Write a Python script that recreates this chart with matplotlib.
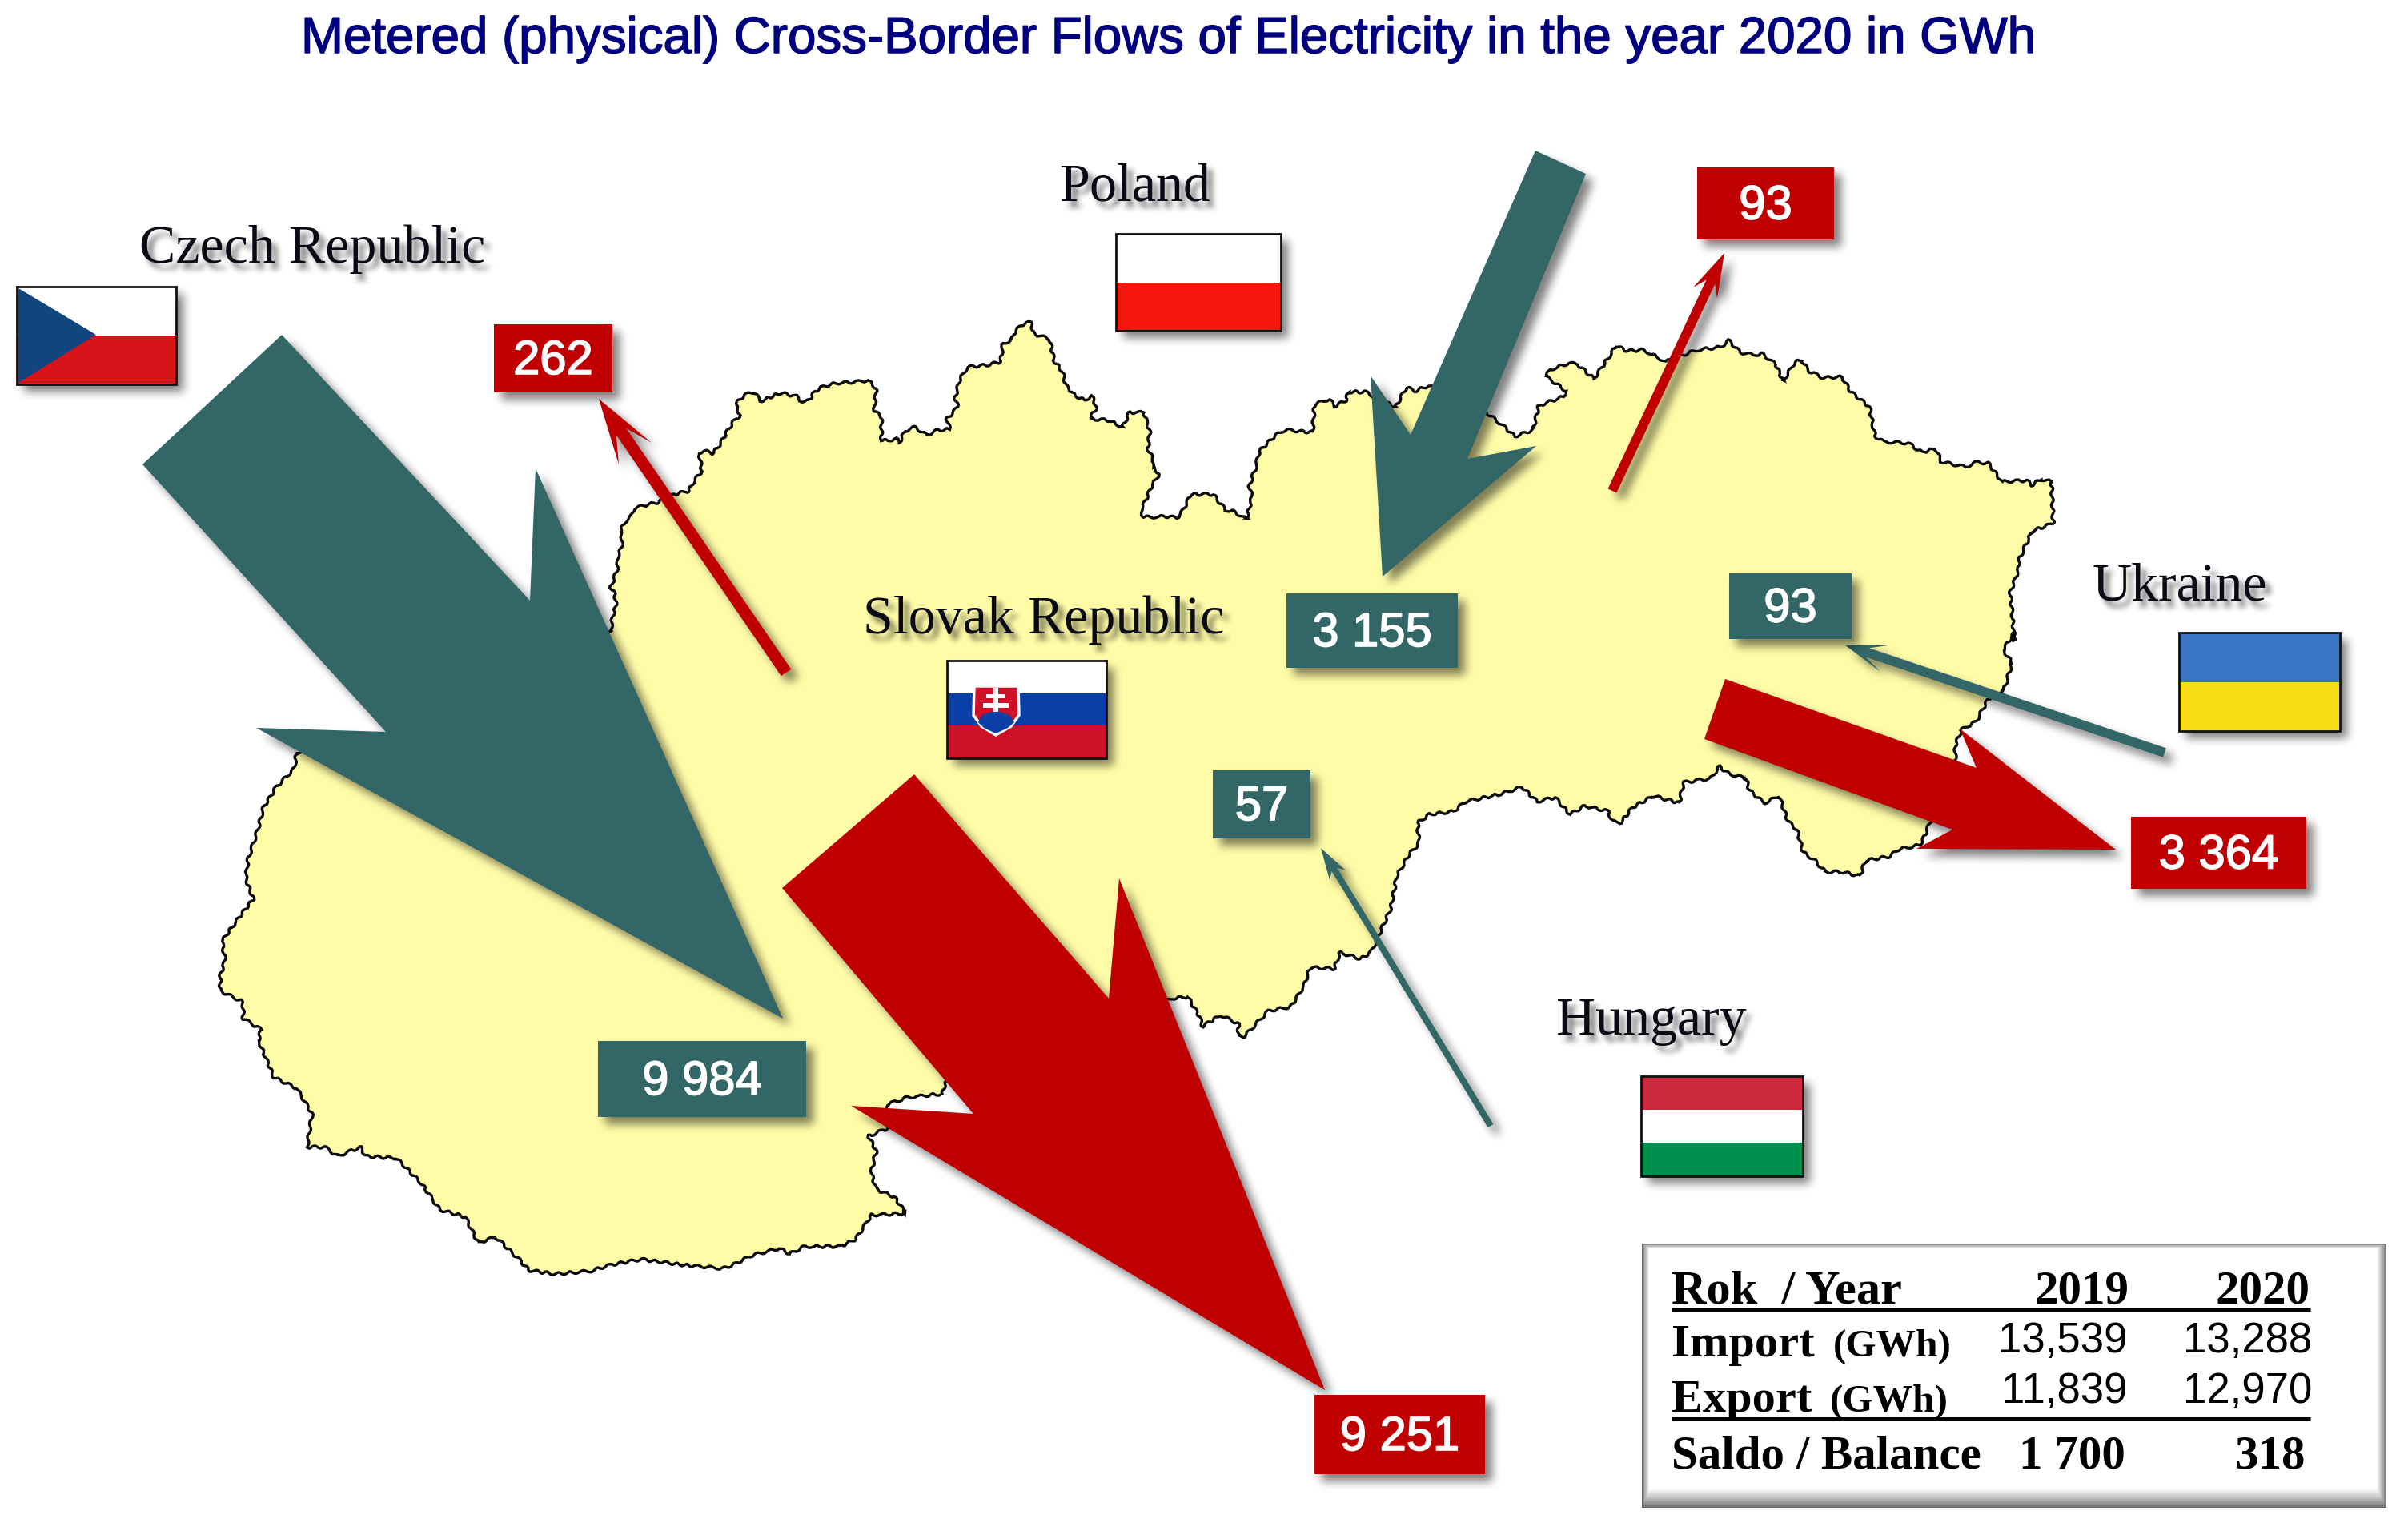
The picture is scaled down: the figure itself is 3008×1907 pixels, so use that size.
import numpy as np
import matplotlib
matplotlib.use("Agg")
import matplotlib.pyplot as plt
from matplotlib.patches import Polygon, Rectangle
import matplotlib.patheffects as pe

TITLE = "Metered (physical) Cross-Border Flows of Electricity in the year 2020 in GWh"
COUNTRIES = ["Czech Republic", "Poland", "Slovak Republic", "Ukraine", "Hungary"]
IMPORT_LABELS = ["9 984", "3 155", "93", "57"]
EXPORT_LABELS = ["262", "93", "3 364", "9 251"]
YEARS = ["2019", "2020"]
IMPORT_TOTAL = ["13,539", "13,288"]
EXPORT_TOTAL = ["11,839", "12,970"]
BALANCE = ["1 700", "318"]

TEAL = "#336666"
RED = "#C00000"
YELLOW = "#FFFCA8"
NAVY = "#00007F"
W, H = 3008, 1907

# border, piece by piece
edge_a = [(45,1220),(50,1170),(58,1130),(55,1085),(45,1060),(55,1020),(62,985),(62,945),(72,910),(72,870),(68,850),(80,815),(95,795),(102,765),(125,755),(160,742),(200,712),(235,700),(250,660),(268,625),(262,560),(270,547),(295,558),(310,530),(325,490),(345,440),(362,415),(350,375),(372,340),(395,328),(412,362),(440,345),(462,332),(500,345),(508,362),(530,362),(545,325),(565,308),(600,295),(650,290),(675,285),(695,315),(690,400),(708,420),(708,512),(745,505),(752,518),(765,475),(790,460),(818,490),(845,472),(875,468),(868,430),(895,385),(888,350),(900,280),(918,235),(965,228),(1000,215),(1005,150),(1028,130),(1035,100),(1060,68),(1075,70),(1080,110),(1120,130),(1130,210),(1150,250),(1160,305),(1180,340),(1205,360),(1222,342),(1235,385),(1218,428),(1265,435),(1298,460),(1315,405),(1350,405),(1365,480),(1360,540),(1375,590),(1372,610),(1388,635),(1370,680),(1350,750),(1342,775),(1350,798),(1405,795),(1432,800),(1445,775),(1465,712),(1520,712),(1550,770)]
edge_b = [(0,715),(25,745),(35,660),(30,620),(42,550),(48,490),(78,430),(95,410),(145,420),(148,315),(175,295),(185,322),(205,300),(210,268),(240,268),(250,280),(295,325),(315,250),(330,265),(355,245),(460,345),(490,395),(512,435),(545,410),(555,320),(600,285),(605,265),(568,210),(575,185),(610,160),(625,165),(655,218),(670,175),(695,95),(715,115),(745,110),(785,155),(815,130),(845,110),(885,100),(900,75),(920,120),(945,130),(960,125),(985,165),(998,228),(1020,155),(1032,150),(1045,190),(1070,215),(1105,212),(1120,265),(1155,325),(1165,435),(1180,455),(1225,460),(1250,495),(1275,480),(1285,530),(1330,550),(1345,532),(1370,535),(1395,605),(1440,600),(1450,618),(1465,595),(1485,605),(1488,760),(1450,790),(1425,900),(1425,935),(1410,1020),(1418,1200)]
edge_c = [(1430,25),(1410,90),(1425,135),(1412,230),(1385,265),(1365,345),(1340,375),(1330,430),(1330,490),(1275,770),(1270,785),(1235,800),(1220,825),(1180,840),(1170,895),(1140,880),(1112,880),(1095,840),(1075,810),(1065,730),(1050,700),(1035,610),(1010,635),(985,590),(980,548),(950,530),(935,505),(920,548),(875,562),(868,635),(825,610),(790,650),(770,705),(755,700),(750,665),(710,645),(685,675),(660,615),(630,630),(605,578),(565,605),(510,630),(490,665),(450,675),(430,705),(432,780),(415,820),(395,895),(385,1010),(365,1105),(352,1165),(335,1190),(300,1168),(290,1225),(250,1220),(240,1285),(218,1360),(180,1375),(140,1465),(130,1465),(130,1420),(100,1390),(70,1430),(65,1395),(45,1325),(20,1330)]
edge_d = [(1475,985),(1470,1015),(1400,1025),(1360,1045),(1360,1110),(1325,1130),(1340,1170),(1330,1230),(1340,1275),(1375,1295),(1398,1340),(1330,1345),(1300,1410),(1270,1430),(1200,1430),(1170,1450),(1150,1435),(1095,1455),(1060,1480),(1040,1490),(960,1480),(880,1465),(820,1480),(780,1497),(710,1505),(660,1495),(640,1465),(595,1405),(560,1420),(535,1350),(485,1330),(450,1260),(400,1190),(340,1185),(330,1160),(285,1185),(260,1160),(225,1160),(235,1070),(205,1000),(160,970),(130,870),(135,840),(100,810),(100,765),(55,735),(55,695),(65,650),(58,600),(100,520),(120,485),(105,430),(110,375),(130,290),(140,235),(165,180),(200,130),(205,85)]
edge_hidden = [(560, 950)]  # runs underneath the Czech arrow


def place(pts, x0, y0, sx, sy):
    return [(x0 + x / sx, y0 + y / sy) for x, y in pts]


outline = (place(edge_a, 740, 380, 1.96, 3) + place(edge_b, 1540, 400, 1.452, 3)
           + place(edge_c, 1450, 780, 1.34, 2.85) + place(edge_d, 240, 900, 1.568, 2.178) + edge_hidden)

big_teal_cz = [(352,418),(662,750),(669,585),(978,1272),(320,909),(482,914),(178,580)]
big_red_hu = [(1142,967),(1385,1247),(1398,1097),(1655,1736),(1063,1381),(1216,1391),(977,1109)]
big_teal_pl = [(1918,188),(1981,217),(1833,573),(1919,557),(1727,720),(1712,469),(1762,543)]
big_red_ua = [(2155,848),(2469,959),(2448,910),(2643,1061),(2394,1060),(2439,1036),(2129,923)]


def box_blur(a, r, axis):
    a = np.moveaxis(a, axis, 0)
    c = np.cumsum(np.pad(a, ((r + 1, r), (0, 0))), axis=0)
    out = (c[2 * r + 1:] - c[:-(2 * r + 1)]) / (2 * r + 1)
    return np.moveaxis(out, 0, axis)


class Shadow:
    def __init__(self, dx=9, dy=9, r=5, alpha=0.5):
        self.dx, self.dy, self.r, self.alpha = dx, dy, r, alpha

    def __call__(self, im, dpi):
        pad = 3 * self.r + max(self.dx, self.dy) + 2
        a = np.pad(im[:, :, 3], pad)
        for _ in range(3):
            a = box_blur(a, self.r, 0)
            a = box_blur(a, self.r, 1)
        a = np.roll(np.roll(a, self.dy, axis=0), self.dx, axis=1)
        out = np.zeros(a.shape + (4,))
        out[:, :, 3] = np.clip(a * self.alpha, 0, 1)
        return out, -pad, -pad


fig = plt.figure(figsize=(W / 100, H / 100), dpi=100)
ax = fig.add_axes([0, 0, 1, 1])
ax.set_xlim(0, W)
ax.set_ylim(H, 0)
ax.axis("off")
z = [10]


def shape(pts, color, shadow=True, lw=0, ec=None):
    z[0] += 2
    if shadow:
        s = Polygon(pts, closed=True, fc="k", ec="none", zorder=z[0] - 1)
        s.set_agg_filter(Shadow())
        ax.add_patch(s)
    ax.add_patch(Polygon(pts, closed=True, fc=color, ec=ec or "none", lw=lw, zorder=z[0]))


def thin_arrow(tail, tip, barb1, barb2, notch, w, color):
    t, n = np.array(tail, float), np.array(notch, float)
    d = (n - t) / np.hypot(*(n - t))
    p = np.array([-d[1], d[0]]) * w / 2
    b1, b2 = np.array(barb1, float), np.array(barb2, float)
    if np.dot(b1 - n, p) < 0:
        b1, b2 = b2, b1
    shape([t + p, n + p, b1, tip, b2, n - p, t - p], color)


def rect(x0, y0, x1, y1):
    return [(x0, y0), (x1, y0), (x1, y1), (x0, y1)]


def flag(x0, y0, x1, y1, stripes):
    shape(rect(x0, y0, x1, y1), "k", lw=0)
    z[0] += 1
    n = sum(f for f, _ in stripes)
    y = y0
    for f, c in stripes:
        yy = y + (y1 - y0) * f / n
        ax.add_patch(Rectangle((x0, y), x1 - x0, yy - y, fc=c, ec="none", zorder=z[0]))
        y = yy
    ax.add_patch(Rectangle((x0, y0), x1 - x0, y1 - y0, fc="none", ec="#111111", lw=2.0, zorder=z[0] + 1))
    z[0] += 2


def label(x0, y0, x1, y1, txt, color):
    shape(rect(x0, y0, x1, y1), color)
    ax.text((x0 + x1) / 2, (y0 + y1) / 2 + 4, txt, color="white", ha="center", va="center",
            fontsize=43, family="Liberation Sans", zorder=z[0] + 1,
            path_effects=[pe.withStroke(linewidth=1.2, foreground="white")])


def country(x, y, txt):
    z[0] += 2
    kw = dict(ha="left", va="baseline", fontsize=49, family="Liberation Serif")
    s = ax.text(x, y, txt, color="k", zorder=z[0] - 1, **kw)
    s.set_agg_filter(Shadow(dx=7, dy=8, r=3, alpha=0.55))
    ax.text(x, y, txt, color="#0a0a14", zorder=z[0], **kw)


# title
ax.text(376, 66, TITLE, color=NAVY, fontsize=45.8, family="Liberation Sans", ha="left", va="baseline",
        zorder=5, path_effects=[pe.withStroke(linewidth=1.1, foreground=NAVY)])

# map
border = Polygon(outline, closed=True, fc=YELLOW, ec="#0a0a0a", lw=2.4, zorder=2, joinstyle="miter")
border.set_sketch_params(1.6, 16, 2)
ax.add_patch(border)

# thin arrows and big arrows
thin_arrow((2704, 940), (2304, 805), (2359, 806), (2349, 839), (2333, 815), 12, TEAL)
thin_arrow((1862, 1406), (1650, 1059), (1681, 1087), (1661, 1099), (1667, 1086), 8, TEAL)
thin_arrow((982, 840), (748, 498), (814, 553), (773, 580), (776, 539), 15, RED)
thin_arrow((2014, 613), (2154, 316), (2115, 359), (2145, 373), (2137, 352), 12, RED)
shape(big_teal_cz, TEAL)
shape(big_teal_pl, TEAL)
shape(big_red_hu, RED)
shape(big_red_ua, RED)

# value boxes
label(747, 1300, 1007, 1395, IMPORT_LABELS[0], TEAL)
label(1607, 741, 1821, 834, IMPORT_LABELS[1], TEAL)
label(2160, 716, 2313, 798, IMPORT_LABELS[2], TEAL)
label(1515, 962, 1637, 1047, IMPORT_LABELS[3], TEAL)
label(617, 405, 765, 490, EXPORT_LABELS[0], RED)
label(2120, 209, 2291, 299, EXPORT_LABELS[1], RED)
label(2662, 1020, 2881, 1110, EXPORT_LABELS[2], RED)
label(1642, 1742, 1855, 1841, EXPORT_LABELS[3], RED)

# country names
country(174, 328, COUNTRIES[0])
country(1323, 252, COUNTRIES[1])
country(1078, 791, COUNTRIES[2])
country(2614, 750, COUNTRIES[3])
country(1944, 1292, COUNTRIES[4])

# flags
flag(21, 358, 220, 480, [(1, "white"), (1, "#D7141A")])
ax.add_patch(Polygon([(23, 360), (120, 418), (23, 478)], closed=True, fc="#11457E", ec="none", zorder=z[0]))
z[0] += 1
flag(1394, 292, 1600, 413, [(1, "white"), (1, "#F5170F")])
flag(1183, 825, 1382, 947, [(1, "white"), (1, "#0B3FA8"), (1, "#CE1126")])
flag(2722, 790, 2923, 913, [(1, "#3A75C4"), (1, "#F9DD16")])
flag(2050, 1344, 2252, 1469, [(1, "#CD2A3E"), (1, "white"), (1, "#008F4C")])

# Slovak coat of arms
zc = z[0]
shield = [(1217, 857), (1272, 857), (1273, 893), (1263, 907), (1244, 918), (1226, 907), (1216, 893)]
ax.add_patch(Polygon(shield, closed=True, fc="#CE1126", ec="white", lw=2.5, zorder=zc))
hills = [(1222, 902), (1227, 893), (1236, 890), (1244, 887), (1252, 890), (1261, 893), (1267, 902), (1259, 909), (1244, 916), (1229, 909)]
ax.add_patch(Polygon(hills, closed=True, fc="#0B3FA8", ec="none", zorder=zc + 1))
ax.add_patch(Rectangle((1241, 859), 6, 30, fc="white", ec="none", zorder=zc + 1))
ax.add_patch(Rectangle((1232, 867), 24, 5, fc="white", ec="none", zorder=zc + 1))
ax.add_patch(Rectangle((1228, 878), 32, 6, fc="white", ec="none", zorder=zc + 1))
z[0] += 3

# table frame
x0, y0, x1, y1 = 2051, 1553, 2981, 1883
n = 18
for i in range(n):
    g = 0.40 + 0.60 * (i / (n - 1)) ** 0.8
    ax.add_patch(Rectangle((x0 + i * 0.55, y0 + i * 0.35), x1 - x0 - i * 1.25, y1 - y0 - i * 1.7,
                           fc=str(g), ec="none", zorder=z[0]))
    z[0] += 1
tz = z[0]
serif = dict(family="Liberation Serif", weight="bold", color="k", va="baseline", zorder=tz)
sans = dict(family="Liberation Sans", color="k", va="baseline", ha="right", zorder=tz, fontsize=38)
ax.text(2088, 1627, "Rok  / Year", fontsize=43.5, ha="left", **serif)
ax.text(2659, 1627, YEARS[0], fontsize=42.5, ha="right", **serif)
ax.text(2885, 1627, YEARS[1], fontsize=42.5, ha="right", **serif)
ax.text(2088, 1694, "Import", fontsize=42, ha="left", **serif)
ax.text(2290, 1694, "(GWh)", fontsize=35.5, ha="left", **serif)
ax.text(2088, 1763, "Export", fontsize=42, ha="left", **serif)
ax.text(2286, 1763, "(GWh)", fontsize=35.5, ha="left", **serif)
ax.text(2088, 1833, "Saldo / Balance", fontsize=42.5, ha="left", **serif)
ax.text(2658, 1689, IMPORT_TOTAL[0], **sans)
ax.text(2888, 1689, IMPORT_TOTAL[1], **sans)
ax.text(2658, 1752, EXPORT_TOTAL[0], **sans)
ax.text(2888, 1752, EXPORT_TOTAL[1], **sans)
ax.text(2655, 1833, BALANCE[0], fontsize=42.5, ha="right", **serif)
ax.text(2880, 1833, BALANCE[1], fontsize=42.5, ha="right", **serif)
ax.plot([2088, 2886], [1635, 1635], color="k", lw=3.6, solid_capstyle="butt", zorder=tz)
ax.plot([2088, 2886], [1772, 1772], color="k", lw=3.6, solid_capstyle="butt", zorder=tz)

fig.savefig("out.png", dpi=100, facecolor="white")
